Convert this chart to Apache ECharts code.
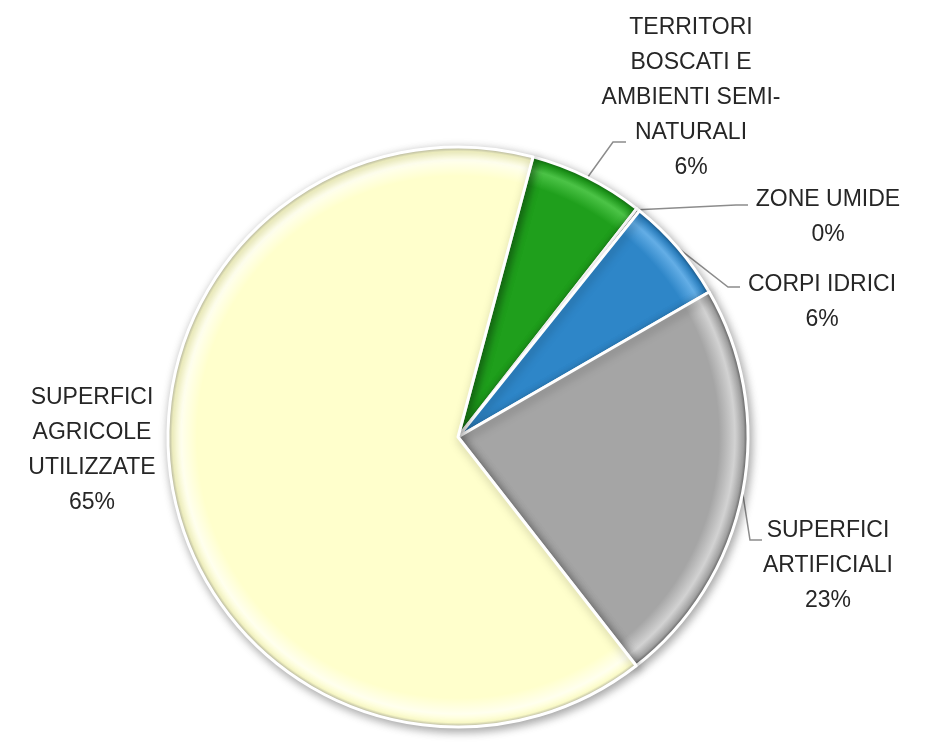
<!DOCTYPE html>
<html>
<head>
<meta charset="utf-8">
<script src="https://cdn.jsdelivr.net/npm/echarts@6/dist/echarts.min.js"></script>
<style>
  html, body { margin: 0; padding: 0; background: #fff; }
  #chart { width: 938px; height: 743px; }
</style>
</head>
<body>
<div id="chart"></div>
<script>
// dati (ordine orario partendo dalla fetta verde)
const categories = [
  'TERRITORI\nBOSCATI E\nAMBIENTI SEMI-\nNATURALI',
  'ZONE UMIDE',
  'CORPI IDRICI',
  'SUPERFICI\nARTIFICIALI',
  'SUPERFICI\nAGRICOLE\nUTILIZZATE'
]
const values = [6.4, 0.2, 5.9, 22.8, 64.7]

// colori: base, riflesso, bordo scuro
const baseColors = ['#1f9f1c', '#7f7f7f', '#2e86c8', '#a5a5a5', '#ffffcc']
const lightColors = ['#4cc447', '#a0a0a0', '#64aee6', '#d2d2d2', '#ffffee']
const rimColors = ['#136b12', '#555555', '#1c5a8a', '#5e5e5e', '#b8b8a4']

// posizione etichette (centro x, alto y) e punti delle linee guida
const labelX = [691, 828, 822, 828, 92]
const labelTop = [10, 182, 267, 513, 380]
const lineElbow = [[613, 142], [736, 205], [728, 287], [750, 540], null]
const lineEnd = [[626, 142], [748, 205], [740, 287], [762, 540], null]

const cx = 458, cy = 437, R = 290

const chart = echarts.init(document.getElementById('chart'))

const seriesData = categories.map((name, i) => ({
  name: name,
  value: values[i],
  itemStyle: {
    color: new echarts.graphic.RadialGradient(cx, cy, R, [
      { offset: 0, color: baseColors[i] },
      { offset: 0.9, color: baseColors[i] },
      { offset: 0.955, color: lightColors[i] },
      { offset: 0.985, color: baseColors[i] },
      { offset: 1, color: rimColors[i] }
    ], true)
  },
  labelLine: { show: lineEnd[i] !== null }
}))

chart.setOption({
  backgroundColor: '#ffffff',
  animation: false,
  series: [
    {
      type: 'pie',
      center: [cx, cy],
      radius: R,
      startAngle: 75,
      clockwise: true,
      avoidLabelOverlap: false,
      data: seriesData,
      itemStyle: {
        borderColor: '#ffffff',
        borderWidth: 3,
        shadowBlur: 10,
        shadowOffsetX: 2,
        shadowOffsetY: 3,
        shadowColor: 'rgba(0,0,0,0.35)'
      },
      label: {
        show: true,
        position: 'outside',
        color: '#262626',
        fontFamily: 'Liberation Sans, Arial, sans-serif',
        fontSize: 23,
        lineHeight: 35,
        align: 'center',
        formatter: function (p) {
          return p.name + '\n' + Math.round(p.percent) + '%'
        }
      },
      labelLine: {
        show: true,
        length: 10,
        length2: 10,
        smooth: false,
        lineStyle: { color: '#8c8c8c', width: 1.5 }
      },
      labelLayout: function (params) {
        const i = params.dataIndex
        const out = {
          x: labelX[i],
          y: labelTop[i],
          align: 'center',
          verticalAlign: 'top'
        }
        if (lineEnd[i] && params.labelLinePoints) {
          out.labelLinePoints = [
            params.labelLinePoints[0],
            lineElbow[i],
            lineEnd[i]
          ]
        }
        return out
      }
    }
  ]
})

window.addEventListener('resize', () => chart.resize())
</script>
</body>
</html>
